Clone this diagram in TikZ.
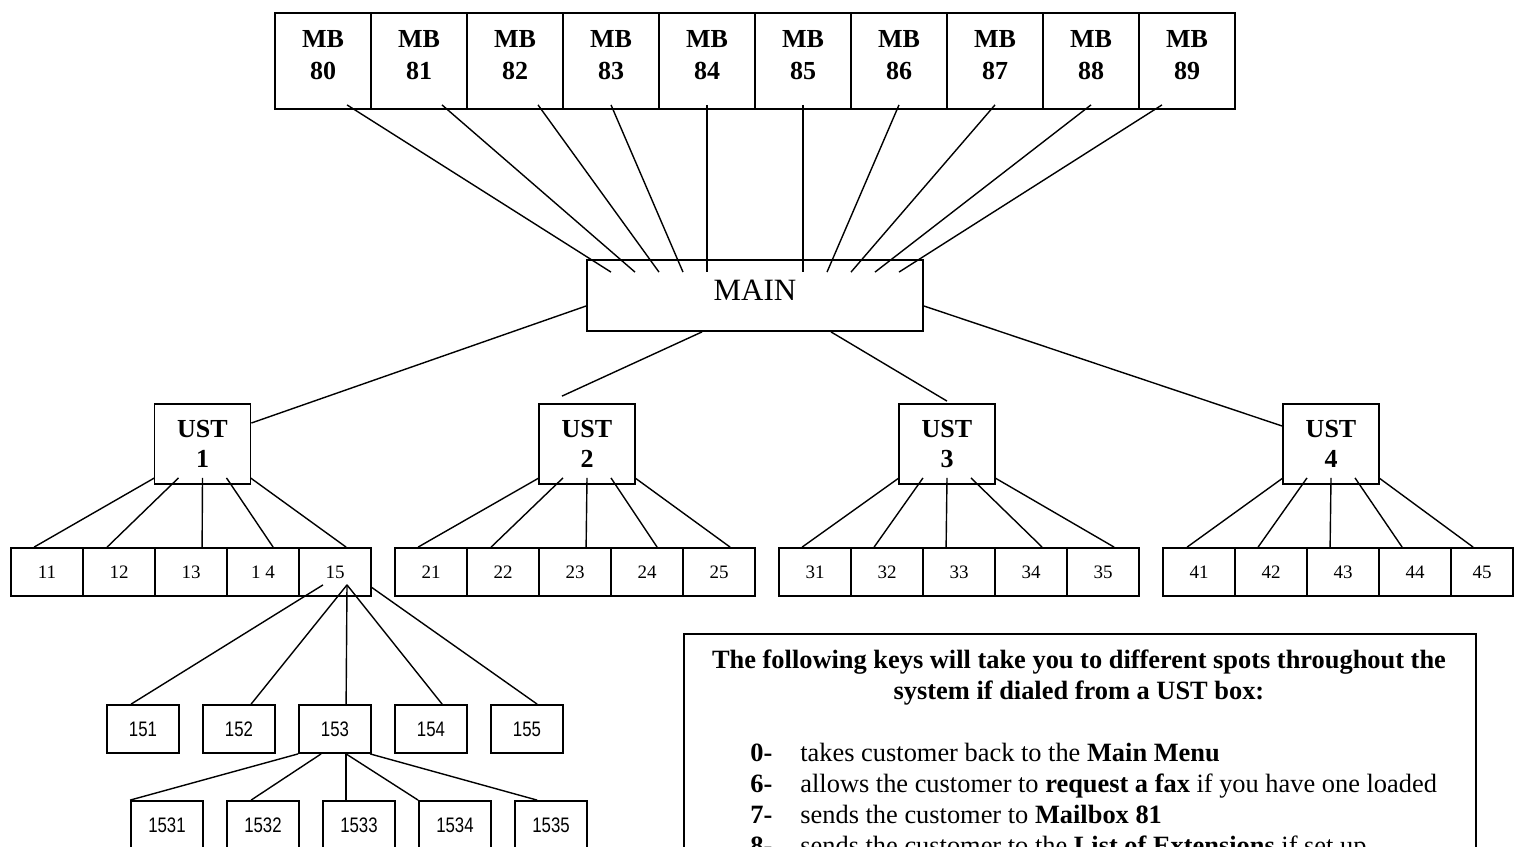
\documentclass[tikz,border=0pt]{standalone}
\usepackage{fontspec}
\setmainfont{Liberation Serif}
\newfontfamily\narrowsans[FakeStretch=0.8]{Liberation Sans}
\usetikzlibrary{calc}
\newcommand{\keyitem}[2]{\makebox[25pt][l]{\textbf{#1}}#2}

\begin{document}
\begin{tikzpicture}[x=0.5pt, y=-0.5pt,
        box/.style={draw, line width=0.9pt, inner sep=0pt},
        mbbox/.style={box, minimum width=48pt, minimum height=48pt, align=center,
            font=\fontsize{13pt}{16pt}\selectfont\bfseries, text depth=6pt},
        mainbox/.style={box, minimum width=168pt, minimum height=35.5pt,
            font=\fontsize{15.5pt}{18pt}\selectfont, text depth=5pt},
        ustbox/.style={box, minimum width=48pt, minimum height=40pt, align=center,
            font=\fontsize{13pt}{15pt}\selectfont\bfseries},
        cell/.style={box, minimum width=36pt, minimum height=24pt,
            font=\fontsize{9.5pt}{11pt}\selectfont},
        c45/.style={minimum width=31pt, xshift=-2.5pt},
        menubox/.style={box, minimum width=36pt, minimum height=24pt,
            font=\narrowsans\fontsize{10.5pt}{12pt}\selectfont},
        keytext/.style={inner sep=0pt, font=\fontsize{13.2pt}{15.5pt}\selectfont},
        link/.style={line width=0.7pt}]
    \useasboundingbox (0,0) rectangle (1515,846);
    \fill[white] (0,0) rectangle (1515,846);
    \clip (0,0) rectangle (1515,846);

    % mailboxes
    \foreach \i in {0,...,9}
        \node[mbbox] (mb8\i) at (323+96*\i,61) {MB\\8\i};
    \node[mainbox] (main) at (755,295.5) {MAIN};

    % UST boxes and their cells
    \foreach \g/\x in {1/202.5, 2/587, 3/947, 4/1331}
        \node[ustbox] (ust\g) at (\x,444) {UST\\\g};
    \foreach \g/\x in {1/11, 2/395, 3/779, 4/1163}
        \foreach \k in {1,...,5}
            \node[cell, c\g\k/.try] (c\g\k) at (\x+72*\k-36,572)
                {\g\ifnum\g\k=14 \ \fi\k\hspace{5pt}};

    % submenu under 15 and 153
    \foreach \k in {1,...,5}
        \node[menubox] (r15\k) at (47+96*\k,729) {15\k};
    \foreach \k in {1,...,5}
        \node[menubox] (r153\k) at (71+96*\k,825) {153\k};

    % key box
    \node[box, anchor=north west, minimum width=396pt, minimum height=140pt] (keybox) at (683,633) {};
    \node[keytext, font=\fontsize{13.2pt}{15.5pt}\selectfont\bfseries, align=center, anchor=base] (keyhead) at (1079,699)
        {The following keys will take you to different spots throughout the\\system if dialed from a UST box:};
    \node[keytext, anchor=base west] (key0) at (750,761) {\keyitem{0-}{takes customer back to the \textbf{Main Menu}}};
    \node[keytext, anchor=base west] (key6) at (750,792) {\keyitem{6-}{allows the customer to \textbf{request a fax} if you have one loaded}};
    \node[keytext, anchor=base west] (key7) at (750,823) {\keyitem{7-}{sends the customer to \textbf{Mailbox 81}}};
    \node[keytext, anchor=base west] (key8) at (750,854) {\keyitem{8-}{sends the customer to the \textbf{List of Extensions} if set up}};

    % lines
    \foreach \n/\s/\e in {0/24/-144, 1/23/-120, 2/23/-96, 3/0/-72, 4/0/-48, 5/0/48, 6/0/72, 7/0/96, 8/0/120, 9/-25/144}
        \draw[link] ($(mb8\n.south)+(\s,-5)$) -- ($(main.north)+(\e,13)$);
    \draw[link] ($(main.west)+(0,10.5)$) -- ($(ust1.east)+(0,-21)$);
    \draw[link] ($(main.south)+(-53,0)$) -- ($(ust2.north)+(-25,-7)$);
    \draw[link] ($(main.south)+(76,0)$) -- ($(ust3.north)+(0,-2)$);
    \draw[link] ($(main.east)+(0,10.5)$) -- ($(ust4.west)+(0,-18)$);
    \foreach \g/\ends in {1/{24,25,48,47,48}, 2/{24,25,48,47,48}, 3/{24,24,24,48,48}, 4/{25,24,24,24,23}}
        \foreach \e [count=\k] in \ends
            \draw[link] ($(ust\g.south)+(24*\k-72,-7)$) -- ($(c\g\k.north west)+(\e,0)$);
    \foreach \k/\sx/\sy/\e in {1/-12/-12/25, 2/12/-12/49, 3/12/-12/48, 4/12/-12/48, 5/36/-10/47}
        \draw[link] ($(c15.south)+(\sx,\sy)$) -- ($(r15\k.north west)+(\e,0)$);
    \foreach \k/\sx/\e in {1/0/0, 2/23/25, 3/48/24, 4/48/0, 5/72/23}
        \draw[link] ($(r153.south west)+(\sx,0)$) -- ($(r153\k.north west)+(\e,0)$);
\end{tikzpicture}
\end{document}
